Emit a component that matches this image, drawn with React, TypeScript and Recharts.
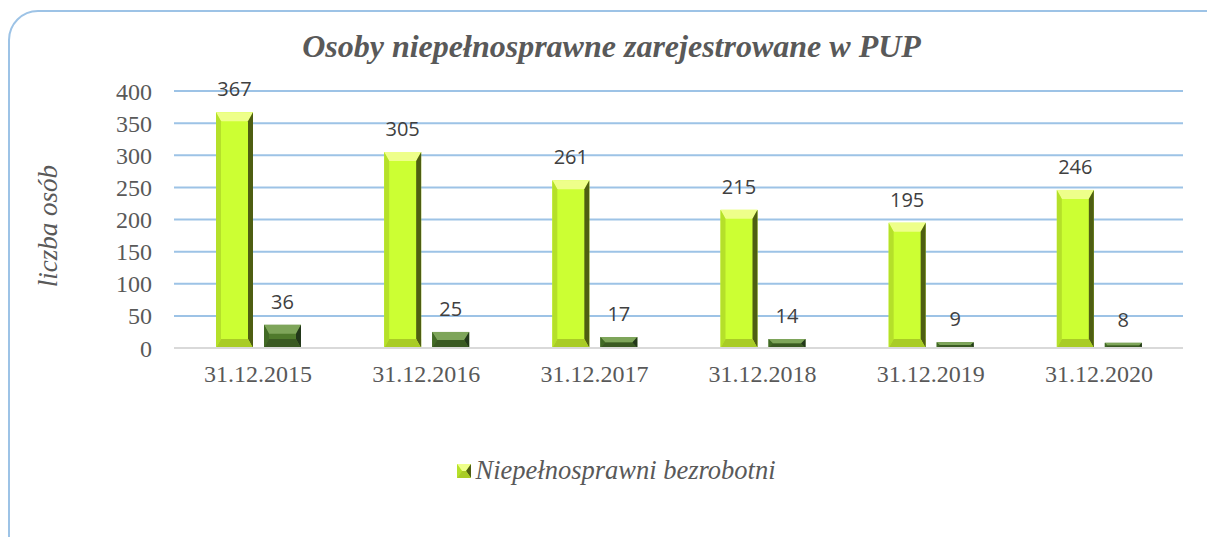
import React from "react";
import {
  BarChart,
  Bar,
  XAxis,
  YAxis,
  CartesianGrid,
  Legend,
  LabelList,
} from "recharts";

const categories = [
  "31.12.2015",
  "31.12.2016",
  "31.12.2017",
  "31.12.2018",
  "31.12.2019",
  "31.12.2020",
];
const bezrobotni = [367, 305, 261, 215, 195, 246];
const poszukujacy = [36, 25, 17, 14, 9, 8];
const yTicks = [0, 50, 100, 150, 200, 250, 300, 350, 400];

const data = categories.map((date, i) => ({
  date,
  bezrobotni: bezrobotni[i],
  poszukujacy: poszukujacy[i],
}));

const SERIF = "Liberation Serif, DejaVu Serif, serif";
const SANS = "Open Sans, Noto Sans, sans-serif";

type Palette = { face: string; top: string; left: string; right: string; bottom: string };

const lightPal: Palette = {
  face: "#CCFF33",
  top: "#EEFF8A",
  left: "#B5E02A",
  right: "#4E5E12",
  bottom: "#A9CC26",
};
const darkPal: Palette = {
  face: "#4F7A2C",
  top: "#7EA55A",
  left: "#416A25",
  right: "#22371A",
  bottom: "#3A5A22",
};

function bevelShape(pal: Palette) {
  return (props: any) => {
    const { x, y, width: w, height: h } = props;
    if (!h || h <= 0) return <g />;
    const b = Math.min(9, h / 2, w / 2);
    const sb = Math.min(5, h / 2, w / 2);
    return (
      <g>
        <rect x={x} y={y} width={w} height={h} fill={pal.face} />
        <polygon
          points={`${x},${y} ${x + w},${y} ${x + w - sb},${y + b} ${x + sb},${y + b}`}
          fill={pal.top}
        />
        <polygon
          points={`${x},${y} ${x + sb},${y + b} ${x + sb},${y + h - b} ${x},${y + h}`}
          fill={pal.left}
        />
        <polygon
          points={`${x + w},${y} ${x + w},${y + h} ${x + w - sb},${y + h - b} ${x + w - sb},${y + b}`}
          fill={pal.right}
        />
        <polygon
          points={`${x},${y + h} ${x + sb},${y + h - b} ${x + w - sb},${y + h - b} ${x + w},${y + h}`}
          fill={pal.bottom}
        />
      </g>
    );
  };
}

const renderLegend = () => (
  <div
    style={{
      display: "flex",
      justifyContent: "center",
      alignItems: "center",
      paddingLeft: 26,
      fontFamily: SERIF,
      fontStyle: "italic",
      fontSize: 26.5,
      color: "#595959",
    }}
  >
    <svg width={14} height={14} style={{ marginRight: 4 }}>
      {bevelShape(lightPal)({ x: 0, y: 0, width: 14, height: 14 })}
    </svg>
    <span>Niepełnosprawni bezrobotni</span>
  </div>
);

export default function App() {
  return (
    <div
      style={{
        position: "absolute",
        left: 0,
        top: 0,
        width: 1207,
        height: 537,
        overflow: "hidden",
        background: "#fff",
      }}
    >
      <div
        style={{
          position: "absolute",
          left: 8,
          top: 10,
          width: 1230,
          height: 560,
          border: "2px solid #9DC3E6",
          borderRadius: 30,
          boxSizing: "border-box",
        }}
      />
      <div
        style={{
          position: "absolute",
          left: 8,
          top: 28,
          width: 1207,
          textAlign: "center",
          fontFamily: SERIF,
          fontStyle: "italic",
          fontWeight: "bold",
          fontSize: 32,
          color: "#595959",
        }}
      >
        Osoby niepełnosprawne zarejestrowane w PUP
      </div>
      <div
        style={{
          position: "absolute",
          left: 48,
          top: 226,
          transform: "translate(-50%, -50%) rotate(-90deg)",
          whiteSpace: "nowrap",
          fontFamily: SERIF,
          fontStyle: "italic",
          fontSize: 27,
          color: "#595959",
        }}
      >
        liczba osób
      </div>
      <BarChart
        width={1207}
        height={537}
        data={data}
        margin={{ top: 91, right: 24, left: 0, bottom: 149 }}
        barSize={37}
        barGap={11}
        style={{ position: "absolute", left: 0, top: 0 }}
      >
        <CartesianGrid vertical={false} stroke="#9DC3E6" strokeWidth={2} />
        <XAxis
          dataKey="date"
          height={40}
          axisLine={{ stroke: "#D9D9D9", strokeWidth: 2 }}
          tickLine={false}
          tickSize={0}
          tickMargin={17}
          tick={{ fill: "#595959", fontFamily: SERIF, fontSize: 24 }}
        />
        <YAxis
          width={174}
          domain={[0, 400]}
          ticks={yTicks}
          axisLine={false}
          tickLine={false}
          tickSize={0}
          tickMargin={22}
          tick={{ fill: "#595959", fontFamily: SERIF, fontSize: 24 }}
        />
        <Legend
          verticalAlign="middle"
          align="center"
          layout="horizontal"
          wrapperStyle={{ top: 455, left: 0, width: 1207 }}
          content={renderLegend}
        />
        <Bar
          dataKey="bezrobotni"
          name="Niepełnosprawni bezrobotni"
          fill="#CCFF33"
          shape={bevelShape(lightPal)}
          isAnimationActive={false}
        >
          <LabelList
            dataKey="bezrobotni"
            position="top"
            offset={16}
            fill="#404040"
            fontFamily={SANS}
            fontSize={20}
          />
        </Bar>
        <Bar
          dataKey="poszukujacy"
          name="Niepełnosprawni poszukujący pracy"
          fill="#4F7A2C"
          legendType="none"
          shape={bevelShape(darkPal)}
          isAnimationActive={false}
        >
          <LabelList
            dataKey="poszukujacy"
            position="top"
            offset={16}
            fill="#404040"
            fontFamily={SANS}
            fontSize={20}
          />
        </Bar>
      </BarChart>
    </div>
  );
}
